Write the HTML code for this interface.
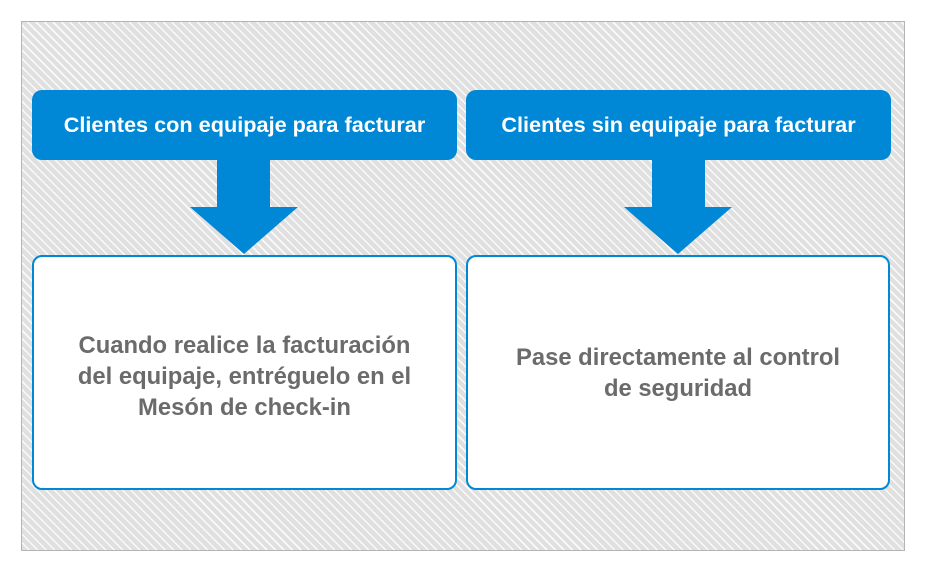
<!DOCTYPE html>
<html><head><meta charset="utf-8"><style>
body{margin:0;width:930px;height:575px;background:#fff;position:relative;font-family:"Liberation Sans",Arial,sans-serif;overflow:hidden}
.frame{position:absolute;left:21px;top:21px;width:882px;height:528px;border:1px solid #b4b4b4;
background:repeating-linear-gradient(45deg,#e0e0e0 0px,#e0e0e0 4.5px,#fafafa 4.5px,#fafafa 6px);}
.hd{position:absolute;top:90px;height:70px;background:#0088d6;border-radius:10px;color:#fff;font-weight:bold;font-size:21.7px;display:flex;align-items:center;justify-content:center}
.bx{position:absolute;top:255px;background:#fff;border:2px solid #0088d6;border-radius:10px;color:#6b6b6b;font-weight:bold;font-size:23.8px;line-height:31px;display:flex;align-items:center;justify-content:center;text-align:center;box-sizing:border-box}
</style></head><body>
<div class="frame"></div>
<div class="hd" style="left:32px;width:425px">Clientes con equipaje para facturar</div>
<div class="hd" style="left:466px;width:425px">Clientes sin equipaje para facturar</div>
<svg style="position:absolute;left:0;top:0" width="930" height="575">
<polygon points="217,158 270,158 270,207 298,207 244,254 190,207 217,207" fill="#0088d6"/>
<polygon points="652,158 705,158 705,207 732,207 678,254 624,207 652,207" fill="#0088d6"/>
</svg>
<div class="bx" style="left:32px;width:425px;height:235px;padding-top:7px">Cuando realice la facturación<br>del equipaje, entréguelo en el<br>Mesón de check-in</div>
<div class="bx" style="left:466px;width:424px;height:235px">Pase directamente al control<br>de seguridad</div>
</body></html>
